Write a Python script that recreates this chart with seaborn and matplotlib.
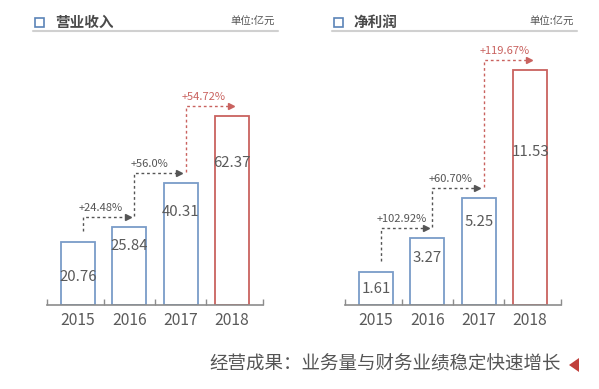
import matplotlib
matplotlib.use('Agg')
import matplotlib.pyplot as plt
from matplotlib.patches import Rectangle, Polygon
from matplotlib.lines import Line2D
import seaborn as sns

# データ
years = ['2015', '2016', '2017', '2018']
revenue = [20.76, 25.84, 40.31, 62.37]
revenue_growth = ['+24.48%', '+56.0%', '+54.72%']
profit = [1.61, 3.27, 5.25, 11.53]
profit_growth = ['+102.92%', '+60.70%', '+119.67%']

BLUE = '#7a9cc8'
RED = '#c9625f'
GRAY = '#5a5a5a'
AXIS = '#8c8c8c'

sns.set_style('white')
plt.rcParams['font.family'] = ['Noto Sans CJK SC', 'DejaVu Sans']
plt.rcParams['axes.unicode_minus'] = False

fig = plt.figure(figsize=(5.99, 3.89), dpi=100)
W, H = 599, 389


def px(x, y):
    return x / W, 1 - y / H


def draw_panel(ax, values, growth, ytop, label_frac):
    sns.barplot(x=years, y=values, hue=years, palette=[BLUE, BLUE, BLUE, RED],
                fill=False, width=0.66, linewidth=1.3, legend=False, ax=ax)
    ax.set_xlim(-0.6, 3.6)
    ax.set_ylim(0, ytop)
    ax.set_xlabel('')
    ax.set_ylabel('')
    ax.set_yticks([])
    for s in ['left', 'right', 'top']:
        ax.spines[s].set_visible(False)
    ax.spines['bottom'].set_color(AXIS)
    ax.spines['bottom'].set_linewidth(1.2)
    ax.set_xticks(range(len(years)))
    ax.set_xticklabels(years)
    ax.set_xticks([-0.6, 0.5, 1.5, 2.5, 3.6], minor=True)
    ax.tick_params(axis='x', which='major', length=0, pad=5, labelsize=11.3,
                   labelcolor=GRAY)
    ax.tick_params(axis='x', which='minor', direction='in', length=4,
                   width=1, color=AXIS, bottom=True)

    # 数値ラベル
    for i, v in enumerate(values):
        ax.text(i, v * label_frac[i], f'{v:.2f}', ha='center', va='center',
                fontsize=10.8, color=GRAY)

    # 成長率の矢印
    gap = ytop * 0.038
    for i, g in enumerate(growth):
        c = RED if i == len(growth) - 1 else '#555555'
        vx = i + 0.1
        ex = i + 0.97
        y0 = values[i] + gap * 1.1
        yh = values[i + 1] + gap
        ax.plot([vx, vx, ex - 0.06], [y0, yh, yh], color=c, lw=1,
                ls=(0, (2, 2)))
        ax.plot([ex], [yh], marker='>', color=c, markersize=4.5, lw=0)
        ax.annotate(g, (vx, yh), xytext=(-3, 3), textcoords='offset points',
                    ha='left', va='bottom', fontsize=8, color=c)


def draw_header(x0, x1, title):
    fig.patches.append(Rectangle(px(x0 + 2, 27), 9 / W, 9 / H,
                                 transform=fig.transFigure, fill=False,
                                 edgecolor='#5b84b8', linewidth=1.2))
    fig.text(*px(x0 + 22, 22), title, ha='left', va='center', fontsize=10.5,
             fontweight='bold', color='#4a4a4a')
    fig.text(*px(x1 - 3, 22), '单位:亿元', ha='right', va='center',
             fontsize=7.5, color='#555555')
    fig.add_artist(Line2D([x0 / W, x1 / W], [1 - 31 / H, 1 - 31 / H],
                          transform=fig.transFigure, color='#d0d0d0', lw=1.5))


ax1 = fig.add_axes([47 / W, 84 / H, 216 / W, 265 / H])
draw_panel(ax1, revenue, revenue_growth, 87.5, [0.45, 0.75, 0.76, 0.75])

ax2 = fig.add_axes([345 / W, 84 / H, 216 / W, 265 / H])
draw_panel(ax2, profit, profit_growth, 13.0, [0.5, 0.7, 0.78, 0.65])

draw_header(33, 278, '营业收入')
draw_header(332, 577, '净利润')

# 下部のテキスト
fig.text(*px(561, 364), '经营成果：业务量与财务业绩稳定快速增长', ha='right',
         va='center', fontsize=13.3, color='#555555')
fig.patches.append(Polygon([px(569, 365), px(579, 358), px(579, 372)],
                           closed=True, transform=fig.transFigure,
                           facecolor='#c0403c', edgecolor='none'))

fig.savefig('out.png', dpi=100, facecolor='white')
